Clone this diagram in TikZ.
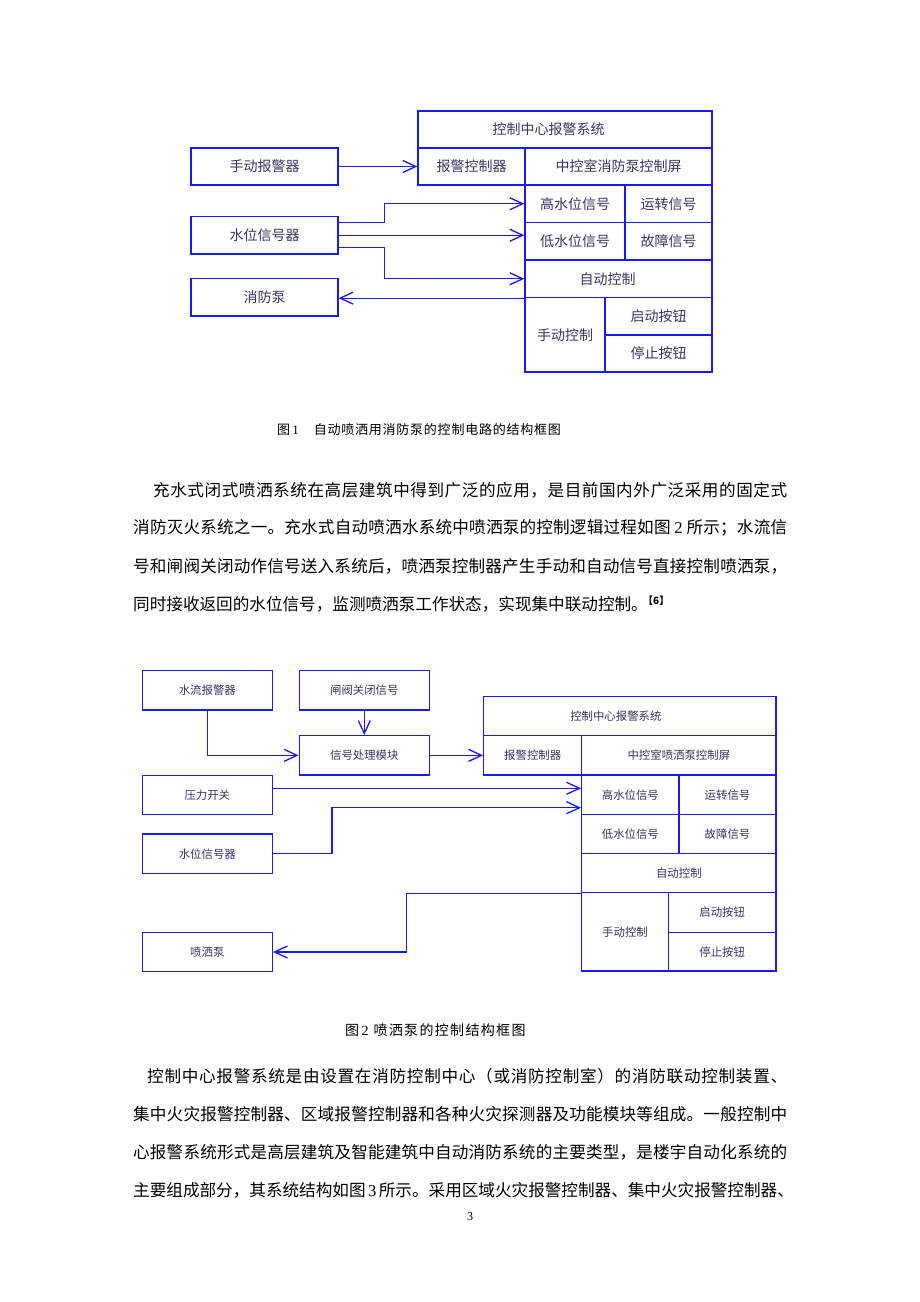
\documentclass[tikz,border=0pt]{standalone}
\usepackage{fontspec}
\usetikzlibrary{arrows.meta}
\setmainfont{Liberation Serif}
\newfontfamily\cjk{Noto Sans CJK SC}
\definecolor{lineblue}{RGB}{25,25,250}
\definecolor{txtcol}{RGB}{55,55,105}
\makeatletter
\count@="3000
\loop\ifnum\count@<"A000 \XeTeXcharclass\count@=7 \advance\count@ 1 \repeat
\count@="FF00
\loop\ifnum\count@<"FFF0 \XeTeXcharclass\count@=7 \advance\count@ 1 \repeat
\makeatother
\XeTeXinterchartokenstate=1
\XeTeXinterchartoks 7 7 = {\hskip 0pt plus 3pt}
\newcommand{\parline}[1]{\cjk\fontsize{16.6}{16.6}\selectfont #1}
\begin{document}
\begin{tikzpicture}[x=1pt,y=-1pt,
  cellA/.style={draw=lineblue, line width=1.3pt, inner sep=0pt, text=txtcol,
    font=\cjk\fontsize{14}{14}\selectfont},
  cellB/.style={draw=lineblue, line width=1.3pt, inner sep=0pt, text=txtcol,
    font=\cjk\fontsize{11.4}{11.4}\selectfont},
  arr/.style={draw=lineblue, line width=1.3pt, -{Straight Barb[length=13pt,width=12pt,line width=1.3pt]}},
  para/.style={anchor=west, inner sep=0pt, text=black},
  captext/.style={inner sep=0pt, text=black}]
\fill[white] (0,0) rectangle (920,1302);
\useasboundingbox (0,0) rectangle (920,1302);

% ---------- Figure 1 ----------
\node[cellA, minimum width=294pt, minimum height=37pt] (sys1) at (565,129.5) {\hspace*{-33pt}控制中心报警系统};
\node[cellA, minimum width=107pt, minimum height=37pt] (alarm1) at (471.5,166.5) {报警控制器};
\node[cellA, minimum width=187pt, minimum height=37pt] (screen1) at (618.5,166.5) {中控室消防泵控制屏};
\node[cellA, minimum width=100pt, minimum height=37.5pt] (high1) at (575,203.75) {高水位信号};
\node[cellA, minimum width=87pt, minimum height=37.5pt] (run1) at (668.5,203.75) {运转信号};
\node[cellA, minimum width=100pt, minimum height=37.5pt] (low1) at (575,241.25) {低水位信号};
\node[cellA, minimum width=87pt, minimum height=37.5pt] (fault1) at (668.5,241.25) {故障信号};
\node[cellA, minimum width=187pt, minimum height=37.5pt] (auto1) at (618.5,278.75) {\hspace*{-22pt}自动控制};
\node[cellA, minimum width=80pt, minimum height=74.5pt] (manual1) at (565,334.75) {手动控制};
\node[cellA, minimum width=107pt, minimum height=37.5pt] (start1) at (658.5,316.25) {启动按钮};
\node[cellA, minimum width=107pt, minimum height=37pt] (stop1) at (658.5,353.5) {停止按钮};

\node[cellA, minimum width=147pt, minimum height=37pt] (malarm) at (264.5,166.5) {手动报警器};
\node[cellA, minimum width=147pt, minimum height=37.5pt] (level1) at (264.5,235.25) {水位信号器};
\node[cellA, minimum width=147pt, minimum height=37.5pt] (pump1) at (264.5,297.25) {消防泵};

\draw[arr] (malarm.east) -- (alarm1.west);
\draw[arr] ([yshift=12.5pt]level1.east) -- ++(46,0) |- (high1.west);
\draw[arr] (level1.east) -- (level1.east -| low1.west);
\draw[arr] ([yshift=-12pt]level1.east) -- ++(46,0) |- (auto1.west);
\draw[arr] (auto1.south west) -- (auto1.south west -| pump1.east);

\node[captext, anchor=west, font=\cjk\fontsize{13}{13}\selectfont] (cap1) at (277,430) {图\,{\rmfamily 1}\hspace{15pt}\makebox[247pt][s]{自动喷洒用消防泵的控制电路的结构框图}};

% ---------- paragraph 1 ----------
\node[para] (p1a) at (153,490) {\makebox[634pt][s]{\parline{充水式闭式喷洒系统在高层建筑中得到广泛的应用，是目前国内外广泛采用的固定式}}};
\node[para] (p1b) at (133,528) {\makebox[654pt][s]{\parline{消防灭火系统之一。充水式自动喷洒水系统中喷洒泵的控制逻辑过程如图 {\rmfamily 2} 所示；水流信}}};
\node[para] (p1c) at (133,566) {\makebox[654pt][s]{\parline{号和闸阀关闭动作信号送入系统后，喷洒泵控制器产生手动和自动信号直接控制喷洒泵，}}};
\node[para] (p1d) at (133,604) {\makebox[510pt][s]{\parline{同时接收返回的水位信号，监测喷洒泵工作状态，实现集中联动控制。}}\raisebox{6pt}{\cjk\bfseries\fontsize{10}{10}\selectfont 【6】}};

% ---------- Figure 2 ----------
\node[cellB, minimum width=292.3pt, minimum height=39.4pt] (sys2) at (629.85,716) {\hspace*{-28pt}控制中心报警系统};
\node[cellB, minimum width=98pt, minimum height=39.3pt] (alarm2) at (532.7,755.35) {报警控制器};
\node[cellB, minimum width=194.3pt, minimum height=39.3pt] (screen2) at (678.85,755.35) {中控室喷洒泵控制屏};
\node[cellB, minimum width=97.3pt, minimum height=39.7pt] (high2) at (630.35,794.85) {高水位信号};
\node[cellB, minimum width=97pt, minimum height=39.7pt] (run2) at (727.5,794.85) {运转信号};
\node[cellB, minimum width=97.3pt, minimum height=39pt] (low2) at (630.35,834.2) {低水位信号};
\node[cellB, minimum width=97pt, minimum height=39pt] (fault2) at (727.5,834.2) {故障信号};
\node[cellB, minimum width=194.3pt, minimum height=39pt] (auto2) at (678.85,873.2) {自动控制};
\node[cellB, minimum width=86.6pt, minimum height=78.3pt] (manual2) at (625,931.85) {手动控制};
\node[cellB, minimum width=107.7pt, minimum height=39.6pt] (start2) at (722.15,912.5) {启动按钮};
\node[cellB, minimum width=107.7pt, minimum height=38.7pt] (stop2) at (722.15,951.65) {停止按钮};

\node[cellB, minimum width=130pt, minimum height=39.3pt] (flow) at (207.3,690.35) {水流报警器};
\node[cellB, minimum width=130pt, minimum height=39.3pt] (gate) at (364.3,690.35) {闸阀关闭信号};
\node[cellB, minimum width=130pt, minimum height=39.3pt] (proc) at (364.3,755.35) {信号处理模块};
\node[cellB, minimum width=130pt, minimum height=39.4pt] (press) at (207.3,795) {压力开关};
\node[cellB, minimum width=130pt, minimum height=39.3pt] (level2) at (207.3,853.65) {水位信号器};
\node[cellB, minimum width=130pt, minimum height=39.4pt] (spray) at (207.3,952) {喷洒泵};

\draw[arr] (flow.south) |- (proc.west);
\draw[arr] (gate.south) -- (proc.north);
\draw[arr] (proc.east) -- (alarm2.west);
\draw[arr] ([yshift=6.7pt]press.east) -- ([yshift=6.7pt]press.east -| high2.west);
\draw[arr] (level2.east) -- ++(59,0) |- ([yshift=-12.85pt]high2.west);
\draw[arr] (auto2.south west) -- ++(-174.4,0) |- (spray.east);

\node[captext, anchor=west, font=\cjk\fontsize{14}{14}\selectfont] (cap2) at (345,1030) {图\,{\rmfamily 2}\hspace{5pt}\makebox[152pt][s]{喷洒泵的控制结构框图}};

% ---------- paragraph 2 ----------
\node[para] (p2a) at (147,1076) {\makebox[640pt][s]{\parline{控制中心报警系统是由设置在消防控制中心（或消防控制室）的消防联动控制装置、}}};
\node[para] (p2b) at (133,1114) {\makebox[654pt][s]{\parline{集中火灾报警控制器、区域报警控制器和各种火灾探测器及功能模块等组成。一般控制中}}};
\node[para] (p2c) at (133,1152) {\makebox[654pt][s]{\parline{心报警系统形式是高层建筑及智能建筑中自动消防系统的主要类型，是楼宇自动化系统的}}};
\node[para] (p2d) at (133,1190) {\makebox[654pt][s]{\parline{主要组成部分，其系统结构如图 {\rmfamily 3} 所示。采用区域火灾报警控制器、集中火灾报警控制器、}}};

\node[captext, font=\rmfamily\fontsize{12}{12}\selectfont] (pageno) at (470,1217) {3};
\end{tikzpicture}
\end{document}
